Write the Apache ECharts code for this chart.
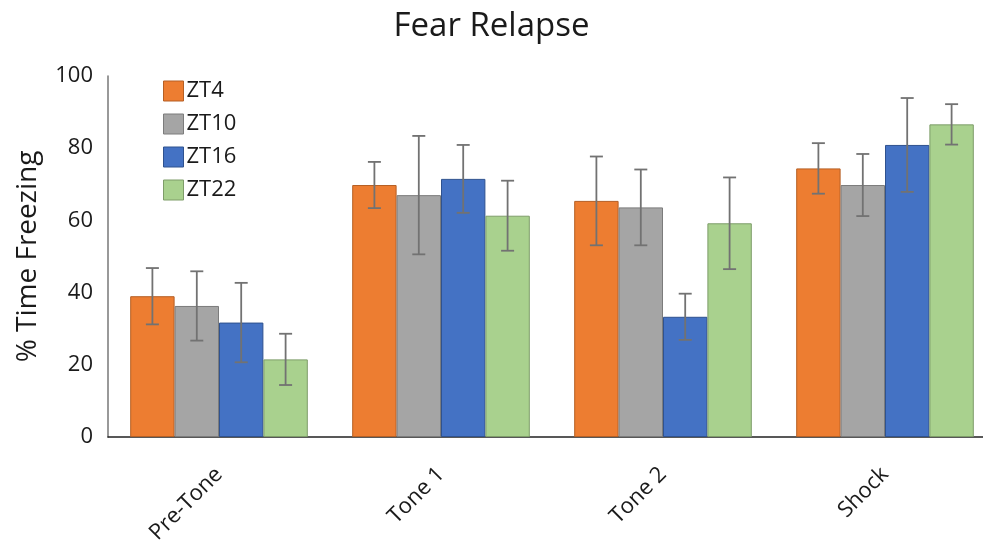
<!DOCTYPE html>
<html><head><meta charset="utf-8">
<script src="https://cdn.jsdelivr.net/npm/echarts@6/dist/echarts.min.js"></script>
<style>html,body{margin:0;padding:0;background:#fff;overflow:hidden}#c{width:983px;height:543px}</style>
</head><body><div id="c"></div>
<script>
const categories = ['Pre-Tone', 'Tone 1', 'Tone 2', 'Shock'];
const seriesNames = ['ZT4', 'ZT10', 'ZT16', 'ZT22'];
const zt4 = [39.0, 69.8, 65.4, 74.4];
const zt10 = [36.3, 67.0, 63.6, 69.8];
const zt16 = [31.7, 71.5, 33.3, 80.9];
const zt22 = [21.5, 61.3, 59.2, 86.6];
const zt4Err = [7.8, 6.4, 12.3, 7.0];
const zt10Err = [9.6, 16.4, 10.5, 8.6];
const zt16Err = [11.0, 9.4, 6.4, 13.0];
const zt22Err = [7.1, 9.7, 12.7, 5.6];
const yTicks = [0, 20, 40, 60, 80, 100];

const values = [zt4, zt10, zt16, zt22];
const errs = [zt4Err, zt10Err, zt16Err, zt22Err];
const colors = ['#ED7D31', '#A5A5A5', '#4472C4', '#A9D18E'];
const borders = ['#B55F24', '#7C7C7C', '#2F528F', '#7E9D69'];
const catGap = 0.20;
const font = '"Open Sans", sans-serif';

const series = [];
values.forEach((vals, i) => {
  series.push({
    name: seriesNames[i], type: 'bar', data: vals,
    barGap: '0%', barCategoryGap: (catGap * 100) + '%',
    itemStyle: { color: colors[i], borderColor: borders[i], borderWidth: 1 },
    emphasis: { disabled: true }
  });
});
values.forEach((vals, i) => {
  series.push({
    type: 'custom', name: seriesNames[i] + ' err', z: 10,
    data: vals.map((v, k) => [k, v - errs[i][k], v + errs[i][k]]),
    renderItem: function (params, api) {
      const band = api.size([1, 0])[0];
      const bw = band * (1 - catGap) / 4;
      const c = api.coord([api.value(0), 0]);
      const x = c[0] + (i - 1.5) * bw;
      const lo = api.coord([api.value(0), api.value(1)])[1];
      const hi = api.coord([api.value(0), api.value(2)])[1];
      const cap = 6.5;
      const st = { stroke: '#727272', lineWidth: 1.8 };
      return { type: 'group', children: [
        { type: 'line', shape: { x1: x, y1: lo, x2: x, y2: hi }, style: st },
        { type: 'line', shape: { x1: x - cap, y1: hi, x2: x + cap, y2: hi }, style: st },
        { type: 'line', shape: { x1: x - cap, y1: lo, x2: x + cap, y2: lo }, style: st }
      ]};
    },
    silent: true
  });
});

const chart = echarts.init(document.getElementById('c'));
chart.setOption({
  animation: false,
  title: { text: 'Fear Relapse', left: 'center', top: 5,
    textStyle: { fontFamily: font, fontWeight: 'normal', fontSize: 33, color: '#1a1a1a' } },
  legend: {
    data: seriesNames.map((n, i) => ({ name: n, icon: 'rect',
      itemStyle: { color: colors[i], borderColor: borders[i], borderWidth: 1 } })),
    orient: 'vertical', left: 163, top: 80, padding: 0,
    itemWidth: 20, itemHeight: 20, itemGap: 11,
    textStyle: { fontFamily: font, fontSize: 22, lineHeight: 20, color: '#1a1a1a', padding: [0, 0, 0, -2] }
  },
  grid: { left: 108, width: 888, top: 76, bottom: 106, containLabel: false, outerBoundsMode: 'none' },
  xAxis: {
    type: 'category', data: categories,
    axisLine: { lineStyle: { color: '#222', width: 1.5 } },
    axisTick: { show: false },
    axisLabel: { rotate: 45, margin: 34, fontFamily: font, fontSize: 22, color: '#1a1a1a' }
  },
  yAxis: {
    type: 'value', min: yTicks[0], max: yTicks[yTicks.length - 1], interval: 20,
    name: '% Time Freezing', nameLocation: 'middle', nameGap: 66,
    nameTextStyle: { fontFamily: font, fontSize: 28, color: '#1a1a1a' },
    axisLine: { show: true, lineStyle: { color: '#777', width: 1.5 } },
    axisTick: { show: false },
    splitLine: { show: false },
    axisLabel: { margin: 15, fontFamily: font, fontSize: 22, color: '#1a1a1a' }
  },
  series: series
});
</script></body></html>
